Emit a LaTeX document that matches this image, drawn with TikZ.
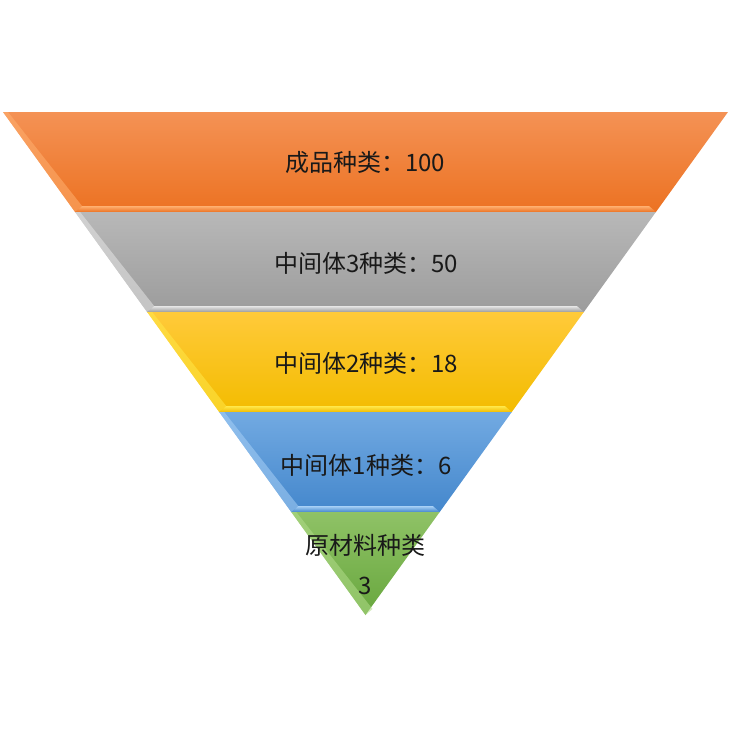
\documentclass[tikz,border=0pt]{standalone}
\usepackage{fontspec}
\setmainfont{Noto Sans CJK SC}
\definecolor{orangeT}{HTML}{F49255}
\definecolor{orangeB}{HTML}{EC7222}
\definecolor{orangeL}{HTML}{FFB070}
\definecolor{grayT}{HTML}{B8B8B8}
\definecolor{grayB}{HTML}{9C9C9C}
\definecolor{grayL}{HTML}{E6E6E6}
\definecolor{yellowT}{HTML}{FFCA3A}
\definecolor{yellowB}{HTML}{F3BC00}
\definecolor{yellowL}{HTML}{FFE84A}
\definecolor{blueT}{HTML}{72AAE2}
\definecolor{blueB}{HTML}{4487CC}
\definecolor{blueL}{HTML}{A8D0F6}
\definecolor{greenT}{HTML}{8FC266}
\definecolor{greenB}{HTML}{68A73E}
\definecolor{greenL}{HTML}{B2DC8A}
\begin{document}
\begin{tikzpicture}[x=1pt, y=-1pt, every node/.style={align=center, font=\fontsize{24}{40}\selectfont, text=black!90}]
\useasboundingbox (0,0) rectangle (731,731);

% Bands (top to bottom)
\foreach \ytop/\ybot/\name/\last in {112/212/orange/0, 212/312/gray/0, 312/412/yellow/0, 412/512/blue/0, 512/615/green/1}
{
  \pgfmathsetmacro\xlt{3+0.7207*(\ytop-112)}
  \pgfmathsetmacro\xrt{728-0.7207*(\ytop-112)}
  \pgfmathsetmacro\xlb{3+0.7207*(\ybot-112)}
  \pgfmathsetmacro\xrb{728-0.7207*(\ybot-112)}
  \shade[top color=\name T, bottom color=\name B] (\xlt,\ytop) -- (\xrt,\ytop) -- (\xrb,\ybot) -- (\xlb,\ybot) -- cycle;
  % bevel on the left edge
  \fill[\name L, opacity=0.55] (\xlt,\ytop) -- (\xlt+5,\ytop) -- (\xlb+7,\ybot-6) -- (\xlb,\ybot) -- cycle;
  % bevel on the bottom edge
  \ifnum\last=0
    \shade[top color=\name L, bottom color=\name B] (\xlb+7,\ybot-6) -- (\xrb-7,\ybot-6) -- (\xrb,\ybot) -- (\xlb,\ybot) -- cycle;
  \fi
}

% Labels
\node (finished) at (365,162) {成品种类：100};
\node (inter3) at (366,263) {中间体3种类：50};
\node (inter2) at (366,363) {中间体2种类：18};
\node (inter1) at (366,465) {中间体1种类：6};
\node (raw) at (365,565) {原材料种类\\3};

\end{tikzpicture}
\end{document}
